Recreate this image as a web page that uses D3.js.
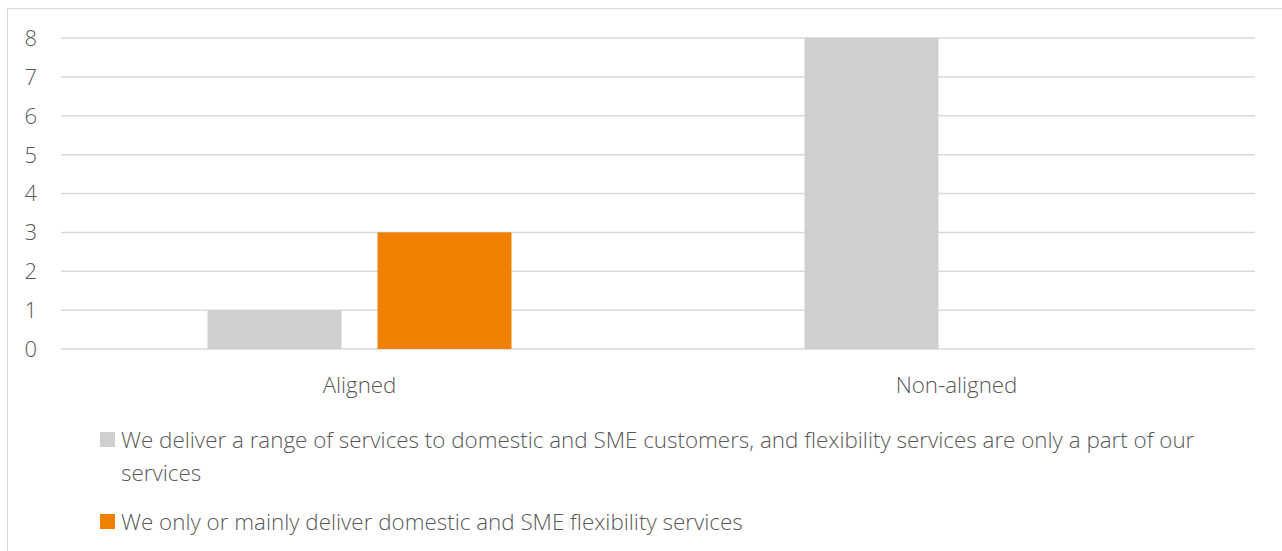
<!DOCTYPE html>
<html>
<head>
<meta charset="utf-8">
<script src="https://cdn.jsdelivr.net/npm/d3@7"></script>
<style>
  body { margin: 0; background: #fff; }
  text { font-family: "Open Sans", sans-serif; font-weight: 300; fill: #595959; }
</style>
</head>
<body>
<svg width="1282" height="551"></svg>
<script>
var categories = ["Aligned", "Non-aligned"];
var seriesNames = ["We deliver a range of services to domestic and SME customers, and flexibility services are only a part of our services",
                   "We only or mainly deliver domestic and SME flexibility services"];
var seriesLines = [["We deliver a range of services to domestic and SME customers, and flexibility services are only a part of our", "services"],
                   ["We only or mainly deliver domestic and SME flexibility services"]];
var rangeValues = [1, 8];
var flexValues = [3, 0];
var yTicks = [0, 1, 2, 3, 4, 5, 6, 7, 8];
var colors = ["#cfcfcf", "#f08000"];

var svg = d3.select("svg");

// chart frame
svg.append("rect")
  .attr("x", 7.5).attr("y", 8.5)
  .attr("width", 1290).attr("height", 560)
  .attr("fill", "none").attr("stroke", "#d9d9d9");

var plotLeft = 61, plotRight = 1255, plotTop = 38, plotBottom = 349;

var x0 = d3.scaleBand().domain(categories).range([plotLeft, plotRight]);
var x1 = d3.scaleBand().domain([0, 1]).range([0, x0.bandwidth()])
  .paddingInner(36 / 170).paddingOuter(0.862);
var y = d3.scaleLinear().domain([0, 8]).range([plotBottom, plotTop]);

var g = svg.append("g");

// gridlines
g.selectAll(".grid")
  .data(yTicks)
  .enter().append("line")
  .attr("x1", plotLeft).attr("x2", plotRight)
  .attr("y1", function(d) { return y(d); })
  .attr("y2", function(d) { return y(d); })
  .attr("stroke", "#d9d9d9").attr("stroke-width", 1.5);

// y labels
g.selectAll(".ylab")
  .data(yTicks)
  .enter().append("text")
  .attr("x", 37)
  .attr("y", function(d) { return y(d); })
  .attr("dy", "0.36em")
  .attr("text-anchor", "end")
  .style("font-size", "22px")
  .text(function(d) { return d; });

var rows = categories.map(function(c, i) {
  return { cat: c, vals: [rangeValues[i], flexValues[i]] };
});

var groups = g.selectAll(".grp")
  .data(rows)
  .enter().append("g")
  .attr("transform", function(d) { return "translate(" + x0(d.cat) + ",0)"; });

groups.selectAll("rect")
  .data(function(d) { return d.vals.map(function(v, j) { return { s: j, v: v }; }); })
  .enter().append("rect")
  .attr("x", function(d) { return x1(d.s); })
  .attr("width", x1.bandwidth())
  .attr("y", function(d) { return y(d.v); })
  .attr("height", function(d) { return y(0) - y(d.v); })
  .attr("fill", function(d) { return colors[d.s]; });

// x labels
g.selectAll(".xlab")
  .data(categories)
  .enter().append("text")
  .attr("x", function(d) { return x0(d) + x0.bandwidth() / 2; })
  .attr("y", 393)
  .attr("text-anchor", "middle")
  .style("font-size", "22.3px")
  .text(function(d) { return d; });

// legend
var legendY = [440, 522];
var leg = svg.selectAll(".leg")
  .data(seriesNames)
  .enter().append("g")
  .attr("transform", function(d, i) { return "translate(100," + legendY[i] + ")"; });

leg.append("rect")
  .attr("x", 0).attr("y", -8)
  .attr("width", 15).attr("height", 15)
  .attr("fill", function(d, i) { return colors[i]; });

leg.append("text")
  .attr("x", 21)
  .attr("y", 0)
  .style("font-size", "22.4px")
  .selectAll("tspan")
  .data(function(d, i) { return seriesLines[i]; })
  .enter().append("tspan")
  .attr("x", 21)
  .attr("dy", function(d, k) { return k === 0 ? "0.36em" : "33px"; })
  .text(function(d) { return d; });
</script>
</body>
</html>
